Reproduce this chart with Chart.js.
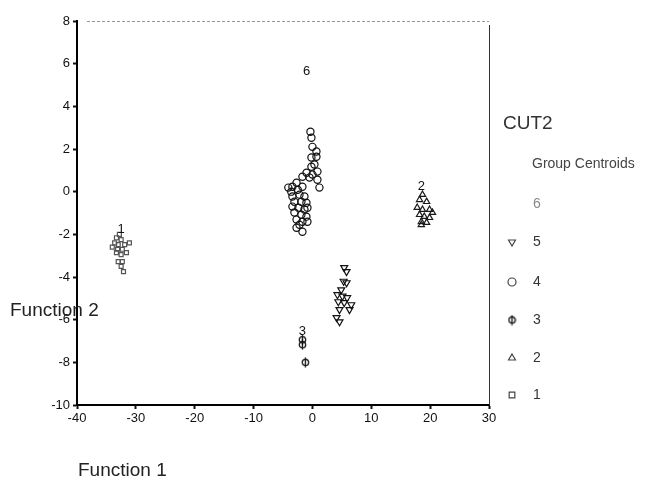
<!DOCTYPE html>
<html><head><meta charset="utf-8">
<script src="https://cdn.jsdelivr.net/npm/chart.js@4/dist/chart.umd.min.js"></script>
<style>html,body{margin:0;padding:0;background:#fff}#wrap{position:relative;width:645px;height:477px}</style>
</head><body><div id="wrap"><canvas id="c" width="645" height="477"></canvas></div>
<script>
// ---- data ----
const xTicks = [-40, -30, -20, -10, 0, 10, 20, 30];
const yTicks = [8, 6, 4, 2, 0, -2, -4, -6, -8, -10];
const groupNames = ['1', '2', '3', '4', '5', '6'];

// group 1 (left cluster)
const g1x = [-32.8,-33.3,-32.5,-33.6,-33.0,-31.9,-31.1,-34.0,-33.1,-32.3,-33.3,-32.5,-31.6,-33.0,-32.3,-32.5,-32.1];
const g1y = [-2.0,-2.16,-2.25,-2.4,-2.48,-2.48,-2.4,-2.6,-2.7,-2.7,-2.86,-2.95,-2.86,-3.28,-3.28,-3.5,-3.75];
// group 2 (right cluster)
const g2x = [18.7,18.2,19.4,17.8,18.7,19.9,20.4,18.2,19.0,19.9,18.5,19.4,18.5];
const g2y = [-0.14,-0.38,-0.47,-0.75,-0.84,-0.84,-0.98,-1.08,-1.17,-1.22,-1.41,-1.45,-1.55];
// group 3 (bottom)
const g3x = [-1.7,-1.7,-1.2];
const g3y = [-6.94,-7.17,-8.0];
// group 4 (central clusters)
const g4x = [-0.34,-0.17,0.0,0.68,0.68,-0.17,0.34,-0.17,0.85,-1.0,-1.7,-0.5,0.85,1.19,0.0,
             -3.4,-2.7,-3.6,-2.5,-1.7,-3.4,-2.2,-1.36,-3.06,-1.87,-1.02,-3.4,-2.38,-1.36,-0.85,-3.06,-1.87,-1.02,-2.7,-1.7,-0.85,-2.2,-2.7,-1.7,-4.1];
const g4y = [2.81,2.53,2.1,1.88,1.64,1.6,1.27,1.17,0.94,0.89,0.7,0.66,0.56,0.19,0.8,
             0.23,0.42,0.0,0.09,0.23,-0.23,-0.14,-0.23,-0.47,-0.47,-0.52,-0.7,-0.75,-0.84,-0.75,-0.98,-1.08,-1.17,-1.31,-1.41,-1.41,-1.55,-1.69,-1.88,0.19];
// group 5 (lower right cluster)
const g5x = [5.4,5.8,5.3,5.8,4.9,4.25,5.1,5.9,4.4,5.4,6.6,4.6,6.3,4.1,4.6];
const g5y = [-3.56,-3.75,-4.2,-4.27,-4.6,-4.83,-4.9,-4.97,-5.16,-5.2,-5.3,-5.53,-5.53,-5.9,-6.1];

// group centroid labels visible in the plot
const centroidLabels = ['6', '2', '3', '1'];
const centroidX = [-1.0, 18.5, -1.7, -32.5];
const centroidY = [5.63, 0.23, -6.56, -1.78];

// ---- build ----
const pts = (xs, ys) => xs.map((x, i) => ({x: x, y: ys[i]}));

function phiCanvas(color) {
  const c = document.createElement('canvas');
  c.width = 9; c.height = 11;
  const g = c.getContext('2d');
  g.strokeStyle = color; g.lineWidth = 1.3;
  g.beginPath(); g.arc(4.5, 5.5, 3.2, 0, Math.PI * 2); g.stroke();
  g.beginPath(); g.moveTo(4.5, 0.5); g.lineTo(4.5, 10.5); g.stroke();
  return c;
}
const phi = phiCanvas('#111');

const styles = [
  {pointStyle: 'rect', radius: 2.8, color: '#555', rotation: 0},
  {pointStyle: 'triangle', radius: 3.6, color: '#1a1a1a', rotation: 0},
  {pointStyle: phi, radius: 4, color: '#111', rotation: 0},
  {pointStyle: 'circle', radius: 3.6, color: '#111', rotation: 0},
  {pointStyle: 'triangle', radius: 4, color: '#111', rotation: 180},
];
const groupData = [pts(g1x, g1y), pts(g2x, g2y), pts(g3x, g3y), pts(g4x, g4y), pts(g5x, g5y)];

const datasets = groupData.map((d, i) => ({
  label: groupNames[i],
  data: d,
  showLine: false,
  pointStyle: styles[i].pointStyle,
  pointRadius: styles[i].radius,
  pointRotation: styles[i].rotation,
  borderColor: styles[i].color,
  backgroundColor: 'rgba(0,0,0,0)',
  pointBorderWidth: 1.2,
}));

const FONT = '"Liberation Sans", Arial, sans-serif';

const decor = {
  id: 'decor',
  afterDraw(chart) {
    const ctx = chart.ctx;
    const a = chart.chartArea;
    const xs = chart.scales.x, ys = chart.scales.y;
    ctx.save();
    // top border (faint dotted)
    ctx.strokeStyle = '#999';
    ctx.lineWidth = 1;
    ctx.setLineDash([3, 2]);
    ctx.beginPath(); ctx.moveTo(a.left + 10, a.top + 0.5); ctx.lineTo(a.right, a.top + 0.5); ctx.stroke();
    ctx.setLineDash([]);
    // right border
    ctx.strokeStyle = '#333';
    ctx.beginPath(); ctx.moveTo(a.right + 0.5, a.top + 4); ctx.lineTo(a.right + 0.5, a.bottom); ctx.stroke();

    // centroid labels
    ctx.fillStyle = '#111';
    ctx.font = '13px ' + FONT;
    ctx.textAlign = 'center';
    ctx.textBaseline = 'middle';
    centroidLabels.forEach((t, i) => {
      ctx.fillText(t, xs.getPixelForValue(centroidX[i]), ys.getPixelForValue(centroidY[i]));
    });

    // axis titles
    ctx.textAlign = 'left';
    ctx.font = '19px ' + FONT;
    ctx.fillStyle = '#222';
    ctx.textBaseline = 'middle';
    ctx.fillText('Function 2', 10, 311);
    ctx.textBaseline = 'alphabetic';
    ctx.fillText('Function 1', 78, 476);

    // legend
    ctx.textBaseline = 'middle';
    ctx.fillStyle = '#333';
    ctx.font = '19px ' + FONT;
    ctx.fillText('CUT2', 503, 124);
    ctx.font = '14px ' + FONT;
    ctx.fillStyle = '#444';
    ctx.fillText('Group Centroids', 532, 164);
    ctx.fillStyle = '#888';
    ctx.fillText('6', 533, 204);
    const legendY = [395, 358, 320, 282, 242];
    for (let i = 4; i >= 0; i--) {
      ctx.fillStyle = '#333';
      ctx.fillText(groupNames[i], 533, legendY[i]);
      ctx.strokeStyle = '#444';
      ctx.fillStyle = 'rgba(0,0,0,0)';
      ctx.lineWidth = 1.2;
      Chart.helpers.drawPoint(ctx, {
        pointStyle: styles[i].pointStyle,
        radius: 4,
        rotation: styles[i].rotation,
        borderWidth: 1.2
      }, 512, legendY[i]);
    }
    ctx.restore();
  }
};

new Chart(document.getElementById('c'), {
  type: 'scatter',
  data: {datasets: datasets},
  options: {
    responsive: false,
    animation: false,
    events: [],
    layout: {padding: {top: 21, right: 156, left: 0, bottom: 0}},
    plugins: {legend: {display: false}, tooltip: {enabled: false}},
    scales: {
      x: {
        type: 'linear', min: -40, max: 30,
        afterBuildTicks: s => { s.ticks = xTicks.map(v => ({value: v})); },
        afterFit: s => { s.height = 72; },
        ticks: {color: '#111', font: {family: FONT, size: 13}, padding: 2, maxRotation: 0,
                callback: v => String(v)},
        grid: {drawOnChartArea: false, drawTicks: true, tickLength: 4, tickColor: '#111', tickWidth: 2},
        border: {display: true, color: '#000', width: 2}
      },
      y: {
        type: 'linear', min: -10, max: 8,
        afterBuildTicks: s => { s.ticks = yTicks.map(v => ({value: v})); },
        afterFit: s => { s.width = 77; },
        ticks: {color: '#111', font: {family: FONT, size: 13}, padding: 3,
                callback: v => String(v)},
        grid: {drawOnChartArea: false, drawTicks: true, tickLength: 4, tickColor: '#111', tickWidth: 2},
        border: {display: true, color: '#000', width: 2}
      }
    }
  },
  plugins: [decor]
});
</script>
</body></html>
